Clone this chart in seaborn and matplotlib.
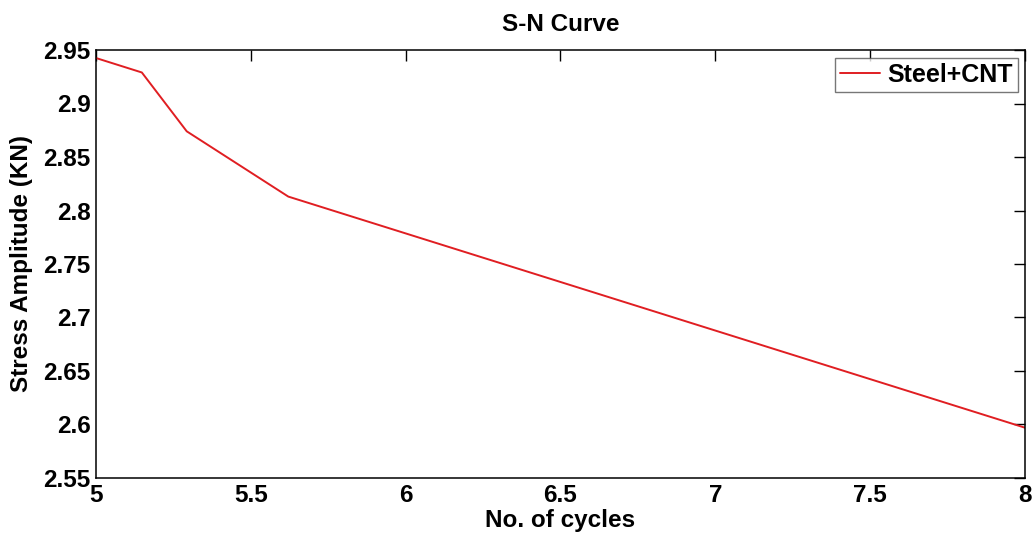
import matplotlib
matplotlib.use("Agg")
import matplotlib.pyplot as plt
import seaborn as sns
import pandas as pd

cycles = [5.0, 5.148, 5.293, 5.621, 8.0]
stress = [2.9425, 2.929, 2.874, 2.813, 2.597]
series_name = "Steel+CNT"
x_ticks = [5, 5.5, 6, 6.5, 7, 7.5, 8]
x_tick_labels = ["5", "5.5", "6", "6.5", "7", "7.5", "8"]
y_ticks = [2.55, 2.6, 2.65, 2.7, 2.75, 2.8, 2.85, 2.9, 2.95]
y_tick_labels = ["2.55", "2.6", "2.65", "2.7", "2.75", "2.8", "2.85", "2.9", "2.95"]

sns.set_style("white")
plt.rcParams['font.family'] = ['Liberation Sans', 'DejaVu Sans']
plt.rcParams['font.weight'] = 'bold'
plt.rcParams['text.color'] = 'black'
plt.rcParams['axes.labelcolor'] = 'black'

df = pd.DataFrame({"cycles": cycles, "stress": stress, "series": series_name})

fig = plt.figure(figsize=(10.34, 5.33), dpi=100)
ax = fig.add_axes([96/1034, 55/533, (1025-96)/1034, (478-50)/533])
sns.lineplot(data=df, x="cycles", y="stress", hue="series", palette=["#e01e22"],
             linewidth=1.4, ax=ax, sort=False)

ax.set_xlim(5, 8)
ax.set_ylim(2.55, 2.95)
ax.set_xticks(x_ticks)
ax.set_xticklabels(x_tick_labels)
ax.set_yticks(y_ticks)
ax.set_yticklabels(y_tick_labels)
ax.tick_params(direction="in", length=8, width=1, top=True, right=True,
               labelsize=17.5, colors="black", pad=4)
for lab in ax.get_xticklabels() + ax.get_yticklabels():
    lab.set_fontweight("bold")
for s in ax.spines.values():
    s.set_visible(True)
    s.set_linewidth(1.1)
    s.set_color("black")

ax.set_xlabel("No. of cycles", fontsize=17.5, fontweight="bold", labelpad=2, color="black")
ax.set_ylabel("Stress Amplitude (KN)", fontsize=17.5, fontweight="bold", labelpad=7, color="black")
ax.set_title("S-N Curve", fontsize=17.5, fontweight="bold", pad=14, color="black")

leg = ax.legend(loc="upper right", fontsize=18, frameon=True, fancybox=False,
                edgecolor="#555555", handlelength=1.6, handletextpad=0.3,
                borderpad=0.2, borderaxespad=0.3)
leg.get_frame().set_linewidth(1.0)
for t in leg.get_texts():
    t.set_fontweight("bold")
    t.set_color("black")

fig.savefig("out.png", dpi=100, facecolor="white")
